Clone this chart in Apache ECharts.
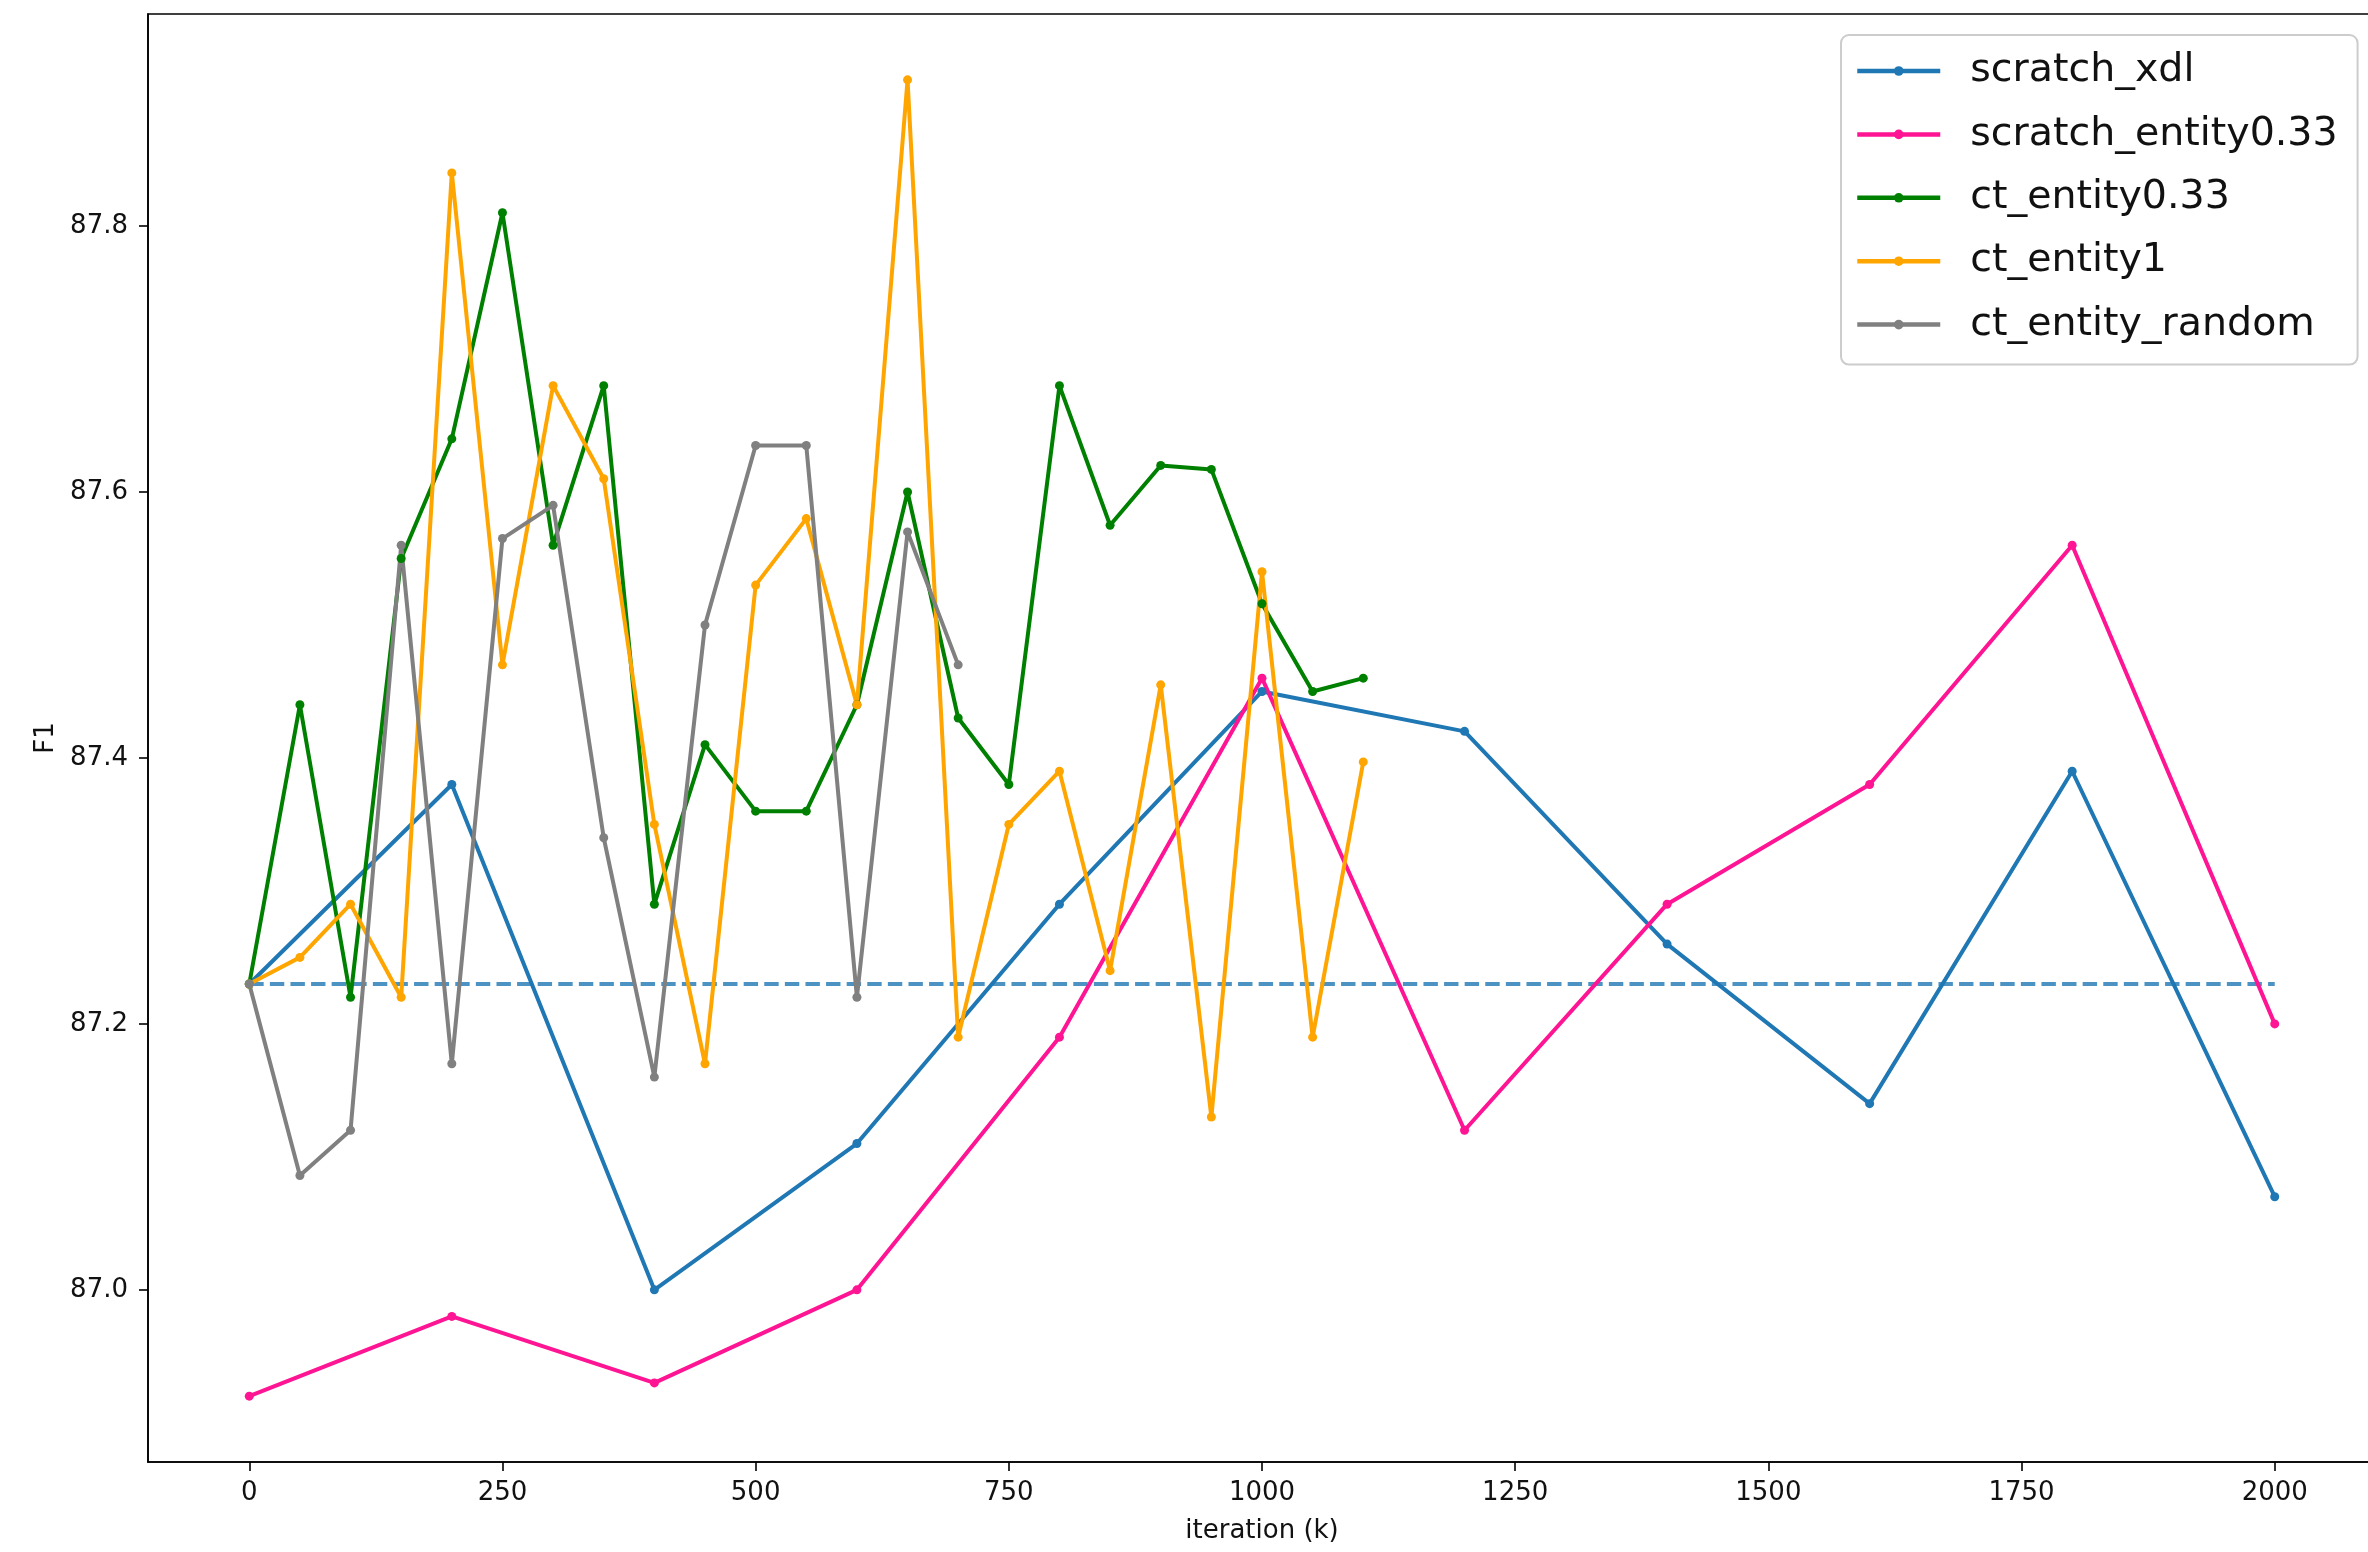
<!DOCTYPE html>
<html>
<head>
<meta charset="utf-8">
<title>F1 vs iteration</title>
<script src="https://cdn.jsdelivr.net/npm/echarts@6/dist/echarts.min.js"></script>
<style>
  html, body { margin: 0; padding: 0; background: #fff; overflow: hidden; }
  /* canvas a little wider than the page so the right spine sits just past the edge */
  #chart { width: 2380px; height: 1552px; }
</style>
</head>
<body>
<div id="chart"></div>
<script>
// Iterations (k) at which each run was evaluated
const scratchIters = [0, 200, 400, 600, 800, 1000, 1200, 1400, 1600, 1800, 2000];
const ctIters = [0, 50, 100, 150, 200, 250, 300, 350, 400, 450, 500, 550,
                 600, 650, 700, 750, 800, 850, 900, 950, 1000, 1050, 1100];
const randomIters = [0, 50, 100, 150, 200, 250, 300, 350, 400, 450, 500, 550, 600, 650, 700];

// F1 scores
const scratchXdl = [87.23, 87.38, 87.00, 87.11, 87.29, 87.45, 87.42, 87.26, 87.14, 87.39, 87.07];
const scratchEntity033 = [86.92, 86.98, 86.93, 87.00, 87.19, 87.46, 87.12, 87.29, 87.38, 87.56, 87.20];
const ctEntity033 = [87.23, 87.44, 87.22, 87.55, 87.64, 87.81, 87.56, 87.68, 87.29, 87.41, 87.36, 87.36,
                     87.44, 87.60, 87.43, 87.38, 87.68, 87.575, 87.62, 87.617, 87.516, 87.45, 87.46];
const ctEntity1 = [87.23, 87.25, 87.29, 87.22, 87.84, 87.47, 87.68, 87.61, 87.35, 87.17, 87.53, 87.58,
                   87.44, 87.91, 87.19, 87.35, 87.39, 87.24, 87.455, 87.13, 87.54, 87.19, 87.397];
const ctEntityRandom = [87.23, 87.086, 87.12, 87.56, 87.17, 87.565, 87.59, 87.34, 87.16, 87.50,
                        87.635, 87.635, 87.22, 87.57, 87.47];

// Starting-point reference line
const baselineIters = [0, 2000];
const baselineF1 = [87.23, 87.23];

// Tick labels
const xTicks = [0, 250, 500, 750, 1000, 1250, 1500, 1750, 2000];
const yTicks = [87.0, 87.2, 87.4, 87.6, 87.8];

const zip = (xs, ys) => xs.map((x, i) => [x, ys[i]]);

const FONT = 'DejaVu Sans';
const INK = '#111';

function lineSeries(name, xs, ys, color) {
  return {
    name: name,
    type: 'line',
    data: zip(xs, ys),
    symbol: 'circle',
    symbolSize: 9,
    showSymbol: true,
    showAllSymbol: true,
    lineStyle: { color: color, width: 4 },
    itemStyle: { color: color },
    emphasis: { disabled: true },
    z: 3
  };
}

const chart = echarts.init(document.getElementById('chart'), null, { renderer: 'canvas' });

chart.setOption({
  animation: false,
  backgroundColor: '#fff',
  grid: {
    left: 148, top: 14, width: 2228, height: 1448,
    show: true, borderColor: '#000', borderWidth: 1.6, backgroundColor: 'transparent'
  },
  xAxis: {
    type: 'value',
    min: -100, max: 2100,
    name: 'iteration (k)',
    nameLocation: 'middle',
    nameGap: 56,
    nameTextStyle: { fontFamily: FONT, fontSize: 26, color: INK },
    axisLine: { show: true, onZero: false, lineStyle: { color: '#000', width: 1.6 } },
    axisTick: { show: true, length: 9, lineStyle: { color: '#000', width: 1.6 }, customValues: xTicks },
    axisLabel: {
      fontFamily: FONT, fontSize: 26, color: INK, margin: 18, customValues: xTicks,
      formatter: v => String(v)
    },
    splitLine: { show: false }
  },
  yAxis: {
    type: 'value',
    min: 86.8705, max: 87.9595,
    name: 'F1',
    nameLocation: 'middle',
    nameGap: 88,
    nameTextStyle: { fontFamily: FONT, fontSize: 26, color: INK },
    axisLine: { show: true, onZero: false, lineStyle: { color: '#000', width: 1.6 } },
    axisTick: { show: true, length: 9, lineStyle: { color: '#000', width: 1.6 }, customValues: yTicks },
    axisLabel: {
      fontFamily: FONT, fontSize: 26, color: INK, margin: 20, customValues: yTicks,
      formatter: v => v.toFixed(1)
    },
    splitLine: { show: false }
  },
  legend: {
    orient: 'vertical',
    left: 1841, top: 35,
    data: ['scratch_xdl', 'scratch_entity0.33', 'ct_entity0.33', 'ct_entity1', 'ct_entity_random'],
    itemWidth: 83,
    itemHeight: 12,
    itemGap: 23.4,
    padding: [16, 20, 20, 14],
    backgroundColor: 'rgba(255,255,255,0.8)',
    borderColor: '#cccccc',
    borderWidth: 2,
    borderRadius: 8,
    lineStyle: { width: 4.5 },
    textStyle: {
      fontFamily: FONT, fontSize: 39.5, color: INK, lineHeight: 40,
      padding: [0, 0, 0, 25]
    },
    selectedMode: false
  },
  series: [
    lineSeries('scratch_xdl', scratchIters, scratchXdl, '#1f77b4'),
    {
      type: 'line',
      data: zip(baselineIters, baselineF1),
      showSymbol: false,
      symbol: 'none',
      lineStyle: { color: 'rgba(31,119,180,0.8)', width: 4, type: [14.4, 6.2] },
      emphasis: { disabled: true },
      z: 3
    },
    lineSeries('scratch_entity0.33', scratchIters, scratchEntity033, '#ff1493'),
    lineSeries('ct_entity0.33', ctIters, ctEntity033, '#008000'),
    lineSeries('ct_entity1', ctIters, ctEntity1, '#ffa500'),
    lineSeries('ct_entity_random', randomIters, ctEntityRandom, '#808080')
  ]
});
</script>
</body>
</html>
